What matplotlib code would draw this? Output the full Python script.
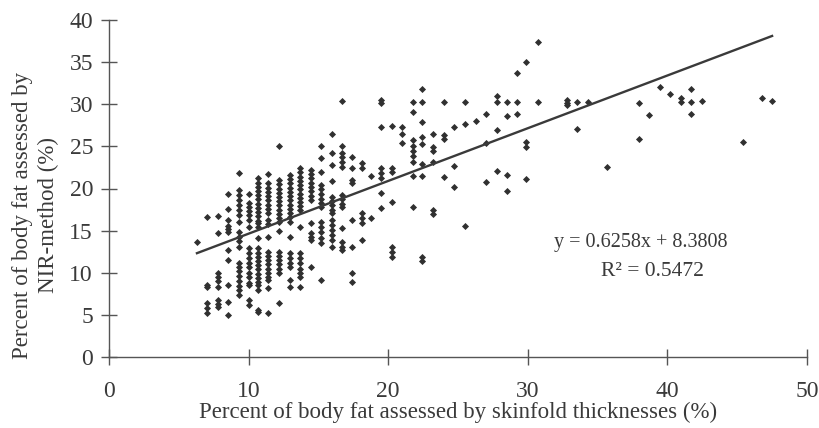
import matplotlib
matplotlib.use("Agg")
import matplotlib.pyplot as plt

# --- data (columns of points) ---
col_x = [6.3, 7.0, 7.8, 8.5, 9.3, 10.0, 10.7, 11.4, 12.2, 13.0, 13.7, 14.5, 15.2,
         16.0, 16.7, 17.4, 18.1, 18.8, 19.5, 20.3, 21.0, 21.8, 22.4, 23.2, 24.0,
         24.7, 25.5, 26.3, 27.0, 27.8, 28.5, 29.2, 29.9, 30.7, 32.8, 33.5, 34.3,
         35.7, 38.0, 38.7, 39.5, 40.2, 41.0, 41.7, 42.5, 45.4, 46.8, 47.5]
col_y = [
    [13.6],
    [16.6, 8.5, 8.3, 6.4, 5.8, 5.2],
    [16.7, 14.7, 10.0, 9.5, 9.0, 8.3, 6.8, 6.3, 5.9],
    [19.3, 17.6, 16.3, 15.6, 15.2, 14.8, 12.7, 11.5, 8.5, 6.5, 5.0],
    [21.8, 19.8, 19.2, 18.6, 18.1, 17.5, 16.8, 16.0, 14.8, 14.3, 13.8, 13.0,
     11.2, 10.7, 10.2, 9.6, 9.0, 8.4, 7.9, 7.4],
    [19.4, 18.3, 17.8, 17.3, 16.8, 16.3, 15.4, 12.9, 12.4, 11.8, 11.2, 10.7,
     10.0, 9.5, 8.8, 8.5, 6.8, 6.2],
    [21.2, 20.7, 20.2, 19.7, 19.2, 18.7, 18.2, 17.7, 17.2, 16.7, 16.2, 15.9,
     15.4, 14.1, 12.9, 12.4, 11.9, 11.4, 10.9, 10.4, 9.9, 9.4, 8.9, 8.5, 7.9,
     5.6, 5.3],
    [21.7, 20.6, 20.1, 19.6, 19.1, 18.6, 18.1, 17.6, 17.1, 16.3, 15.8, 14.2,
     12.5, 12.0, 11.5, 11.0, 10.5, 10.0, 9.5, 9.1, 8.2, 5.2],
    [25.0, 21.0, 20.5, 20.0, 19.5, 19.0, 18.5, 18.0, 17.5, 17.0, 16.5, 16.0,
     15.0, 12.5, 12.0, 11.5, 11.0, 10.5, 10.0, 6.4],
    [21.6, 21.1, 20.6, 20.1, 19.6, 19.1, 18.6, 18.1, 17.6, 17.1, 16.6, 16.0,
     14.2, 12.3, 11.8, 11.2, 10.7, 9.1, 8.3],
    [22.4, 21.9, 21.4, 20.9, 20.4, 19.9, 19.4, 18.9, 18.4, 17.9, 17.4, 15.4,
     12.3, 11.7, 11.1, 10.5, 10.0, 9.5, 8.3],
    [22.2, 21.7, 21.2, 20.7, 20.2, 19.7, 19.1, 18.6, 15.9, 14.7, 14.3, 13.9, 10.7],
    [25.0, 23.6, 21.9, 20.4, 19.9, 19.3, 18.8, 18.3, 17.8, 16.0, 15.4, 14.8,
     14.1, 13.5, 9.1],
    [26.5, 24.2, 22.8, 20.9, 19.0, 18.5, 18.0, 17.5, 17.1, 16.3, 15.7, 15.1,
     14.5, 13.9, 13.0],
    [30.4, 25.1, 24.2, 23.7, 23.1, 22.5, 19.2, 18.7, 18.2, 17.8, 15.3, 13.6,
     13.1, 12.7],
    [23.7, 22.4, 21.0, 20.6, 16.3, 13.0, 10.0, 8.9],
    [23.0, 22.4, 17.1, 16.5, 15.9, 13.9],
    [21.5, 16.5],
    [30.5, 30.1, 27.3, 22.4, 21.8, 21.2, 19.5, 17.7],
    [27.4, 22.4, 21.9, 18.4, 13.0, 12.5, 11.9],
    [27.3, 26.5, 25.4],
    [30.3, 29.1, 25.7, 25.1, 24.5, 23.8, 23.1, 21.5, 17.8],
    [31.8, 30.3, 27.9, 26.1, 25.3, 22.9, 21.5, 11.9, 11.4],
    [26.5, 24.9, 24.5, 23.2, 17.4, 17.0],
    [30.3, 26.3, 25.9, 21.4],
    [27.3, 22.7, 20.2],
    [30.3, 27.7, 15.5],
    [28.0],
    [28.9, 25.4, 20.8],
    [31.0, 30.3, 26.9, 22.1],
    [30.3, 28.6, 21.6, 19.7],
    [33.7, 30.3, 28.9],
    [35.0, 25.5, 24.9, 21.1],
    [37.4, 30.3],
    [30.5, 30.2, 29.9],
    [30.3, 27.1],
    [30.3],
    [22.6],
    [30.1, 25.9],
    [28.7],
    [32.1],
    [31.2],
    [30.8, 30.3],
    [31.8, 30.3, 28.8],
    [30.4],
    [25.5],
    [30.7],
    [30.4],
]
slope = 0.6258
intercept = 8.3808
r_squared = 0.5472
x_ticks = [0, 10, 20, 30, 40, 50]
y_ticks = [0, 5, 10, 15, 20, 25, 30, 35, 40]

xs, ys = [], []
for cx, cys in zip(col_x, col_y):
    for cy in cys:
        xs.append(cx)
        ys.append(cy)

plt.rcParams['font.family'] = ['Liberation Serif', 'DejaVu Serif']
ink = '#3a3a3a'

fig = plt.figure(figsize=(8.19, 4.28), dpi=100)
ax = fig.add_axes([109/819, 1-357/428, (807-109)/819, (357-20)/428])

ax.scatter(xs, ys, marker='D', s=13, color='#303030', linewidths=0, zorder=3)
x0, x1 = min(xs), max(xs)
ax.plot([x0, x1], [slope*x0 + intercept, slope*x1 + intercept],
        color='#3a3a3a', lw=1.7, zorder=4)

ax.set_xlim(0, 50)
ax.set_ylim(0, 40)
ax.set_xticks(x_ticks)
ax.set_yticks(y_ticks)
for s in ['top', 'right']:
    ax.spines[s].set_visible(False)
for s in ['left', 'bottom']:
    ax.spines[s].set_color('#555555')
    ax.spines[s].set_linewidth(1.0)
ax.tick_params(axis='both', direction='inout', length=11, width=1.0,
               color='#555555', labelsize=17, labelcolor=ink)
ax.tick_params(axis='y', pad=6)
ax.tick_params(axis='x', pad=12)

ax.set_xlabel('Percent of body fat assessed by skinfold thicknesses (%)',
              fontsize=16.5, color=ink, labelpad=0)
ax.set_ylabel('Percent of body fat assessed by\nNIR-method (%)',
              fontsize=16.5, color=ink, linespacing=1.3)
ax.yaxis.set_label_coords(-0.072, 0.42)

ax.text(38.1, 13.6, f'y = {slope}x + {intercept}', fontsize=14.5, color=ink,
        ha='center', va='center')
ax.text(38.9, 10.1, f'R\u00b2 = {r_squared}', fontsize=15.5, color=ink,
        ha='center', va='center')

fig.savefig('out.png', dpi=100)
